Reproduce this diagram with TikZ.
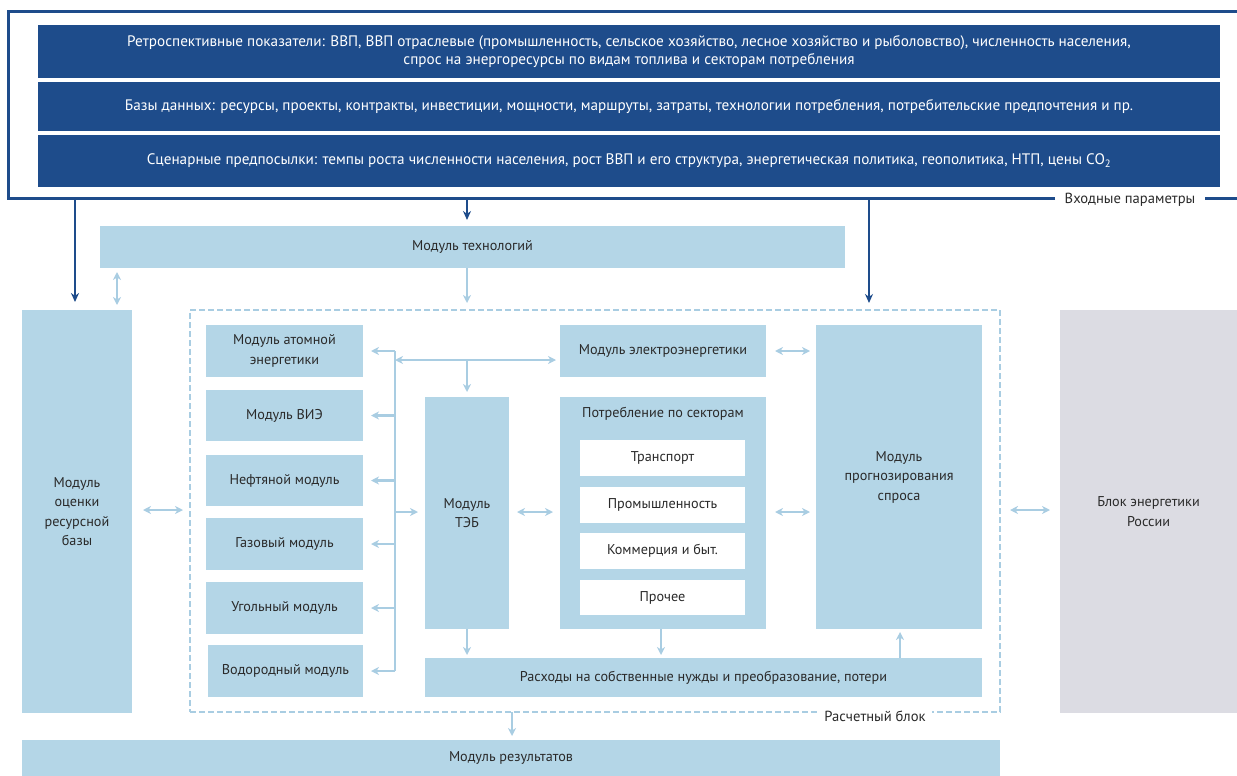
\documentclass[tikz,border=0pt]{standalone}
\usepackage{fontspec}
\setmainfont{PT Sans}
\usetikzlibrary{arrows.meta}
\definecolor{dkb}{HTML}{1E4C8B}
\definecolor{ltb}{HTML}{B4D6E7}
\definecolor{arr}{HTML}{A9CDE2}
\definecolor{gry}{HTML}{DCDCE3}
\definecolor{txt}{HTML}{2A2A2A}
\begin{document}
\begin{tikzpicture}[x=1pt,y=-1pt,
  box/.style={fill=ltb, inner sep=0pt, outer sep=0pt, anchor=north west, align=center,
    text=txt, font=\fontsize{14.2}{19.5}\selectfont},
  wbox/.style={box, fill=white},
  gbox/.style={box, fill=gry},
  dbar/.style={fill=dkb, inner sep=0pt, outer sep=0pt, anchor=north west, align=center,
    text=white, font=\fontsize{15.2}{18}\selectfont},
  frameline/.style={draw=dkb, line width=3pt},
  darr/.style={draw=dkb, line width=2.4pt, -{Stealth[length=9pt,width=8pt]}},
  larr/.style={draw=arr, line width=2.2pt, -{Stealth[length=8pt,width=8pt,inset=2.5pt]}},
  ldarr/.style={draw=arr, line width=2.2pt, {Stealth[length=8pt,width=8pt,inset=2.5pt]}-{Stealth[length=8pt,width=8pt,inset=2.5pt]}},
  bus/.style={draw=arr, line width=2.2pt},
  lab/.style={inner sep=2pt, fill=white, text=txt, font=\fontsize{14.6}{17}\selectfont}
]
\useasboundingbox (0,0) rectangle (1237,776);

% input frame
\draw[frameline] (1055,198) -- (8,198) -- (8,12) -- (1237,12);
\draw[frameline] (1205,198) -- (1237,198);
\node[lab] (inp) at (1130,200) {Входные параметры};

\node[dbar, minimum width=1182, minimum height=53] (b1) at (38,25)
  {Ретроспективные показатели: ВВП, ВВП отраслевые (промышленность, сельское хозяйство, лесное хозяйство и рыболовство), численность населения,\\
   спрос на энергоресурсы по видам топлива и секторам потребления};
\node[dbar, minimum width=1182, minimum height=49] (b2) at (38,82)
  {Базы данных: ресурсы, проекты, контракты, инвестиции, мощности, маршруты, затраты, технологии потребления, потребительские предпочтения и пр.};
\node[dbar, minimum width=1182, minimum height=52] (b3) at (38,135)
  {Сценарные предпосылки: темпы роста численности населения, рост ВВП и его структура, энергетическая политика, геополитика, НТП, цены CO\textsubscript{2}};

\coordinate (f1) at (75,198);
\coordinate (f2) at (467,198);
\coordinate (f3) at (869,198);

% main boxes
\node[box, minimum width=745, minimum height=42] (tech) at (100,226) {Модуль технологий};
\node[box, minimum width=110, minimum height=403] (ocen) at (22,310) {Модуль\\оценки\\ресурсной\\базы};
\node[gbox, minimum width=177, minimum height=403] (blok) at (1060,310) {Блок энергетики\\России};
\node[box, minimum width=978, minimum height=36] (res) at (22,740) {Модуль результатов};

% calculation block
\node[draw=arr, line width=2pt, dash pattern=on 6pt off 3pt, inner sep=0pt, outer sep=0pt,
  anchor=north west, minimum width=810, minimum height=402] (calc) at (190,310) {};
\node[lab, fill=white, inner sep=6pt] (calclab) at (875,716) {Расчетный блок};

% left modules
\node[box, minimum width=157, minimum height=52] (atom) at (206,325) {Модуль атомной\\энергетики};
\node[box, minimum width=157, minimum height=51] (vie) at (206,390) {Модуль ВИЭ};
\node[box, minimum width=157, minimum height=51] (oil) at (206,455) {Нефтяной модуль};
\node[box, minimum width=157, minimum height=52] (gas) at (206,518) {Газовый модуль};
\node[box, minimum width=157, minimum height=52] (coal) at (206,582) {Угольный модуль};
\node[box, minimum width=155, minimum height=52] (hyd) at (208,645) {Водородный модуль};

\node[box, minimum width=84, minimum height=232] (teb) at (425,397) {Модуль\\ТЭБ};
\node[box, minimum width=206, minimum height=52] (elec) at (560,325) {Модуль электроэнергетики};
\node[box, minimum width=206, minimum height=232] (potr) at (560,397) {};
\node[inner sep=0pt, text=txt, font=\fontsize{14.2}{19.5}\selectfont] (potrt) at (663,414) {Потребление по секторам};
\node[wbox, minimum width=165, minimum height=36] (s1) at (580,440) {Транспорт};
\node[wbox, minimum width=165, minimum height=36] (s2) at (580,487) {Промышленность};
\node[wbox, minimum width=165, minimum height=36] (s3) at (580,533) {Коммерция и быт.};
\node[wbox, minimum width=165, minimum height=35] (s4) at (580,580) {Прочее};
\node[box, minimum width=166, minimum height=304] (prog) at (816,325) {Модуль\\прогнозирования\\спроса};
\node[box, minimum width=557, minimum height=39] (rash) at (425,658) {Расходы на собственные нужды и преобразование, потери};

% dark input arrows
\draw[darr] (f1) -- ([yshift=8pt]ocen.north -| f1);
\draw[darr] (f2) -- ([yshift=6pt]tech.north -| f2);
\draw[darr] (f3) -- ([yshift=7pt]calc.north -| f3);

% light arrows
\coordinate (x117) at (117,0);
\draw[ldarr, shorten <=4pt, shorten >=5pt] (tech.south -| x117) -- (ocen.north -| x117);
\draw[larr, shorten >=7pt] (tech.south -| f2) -- (calc.north -| f2);
\coordinate (y510) at (0,510);
\draw[ldarr, shorten <=11pt, shorten >=7pt] (ocen.east |- y510) -- (calc.west |- y510);
\draw[ldarr, shorten <=10pt, shorten >=10pt] (calc.east |- y510) -- (blok.west |- y510);

% bus
\coordinate (bus) at (395,0);
\draw[bus] (atom.east -| bus) -- (hyd.east -| bus);
\foreach \m in {atom,vie,oil,gas,coal,hyd}
  \draw[larr, shorten >=8pt] (\m.east -| bus) -- (\m.east);
\coordinate (y360) at (0,360);
\draw[ldarr, shorten >=4pt] (bus |- y360) -- (elec.west |- y360);
\draw[larr, shorten >=5pt] (f2 |- y360) -- (teb.north -| f2);
\coordinate (y512) at (0,512);
\draw[larr, shorten >=7pt] (bus |- y512) -- (teb.west |- y512);
\draw[ldarr, shorten <=8pt, shorten >=7pt] (teb.east |- y512) -- (potr.west |- y512);
\draw[ldarr, shorten <=9pt, shorten >=6pt] (elec.east) -- (prog.west |- elec.east);
\draw[ldarr, shorten <=9pt, shorten >=6pt] (potr.east |- y512) -- (prog.west |- y512);

% down/up arrows to/from losses
\draw[larr, shorten >=3pt] (teb.south) -- (rash.north -| teb.south);
\coordinate (x661) at (661,0);
\draw[larr, shorten >=3pt] (potr.south -| x661) -- (rash.north -| x661);
\coordinate (x900) at (900,0);
\draw[larr, shorten >=3pt] (rash.north -| x900) -- (prog.south -| x900);
\coordinate (x512) at (512,0);
\draw[larr, shorten >=4pt] (calc.south -| x512) -- (res.north -| x512);
\end{tikzpicture}
\end{document}
